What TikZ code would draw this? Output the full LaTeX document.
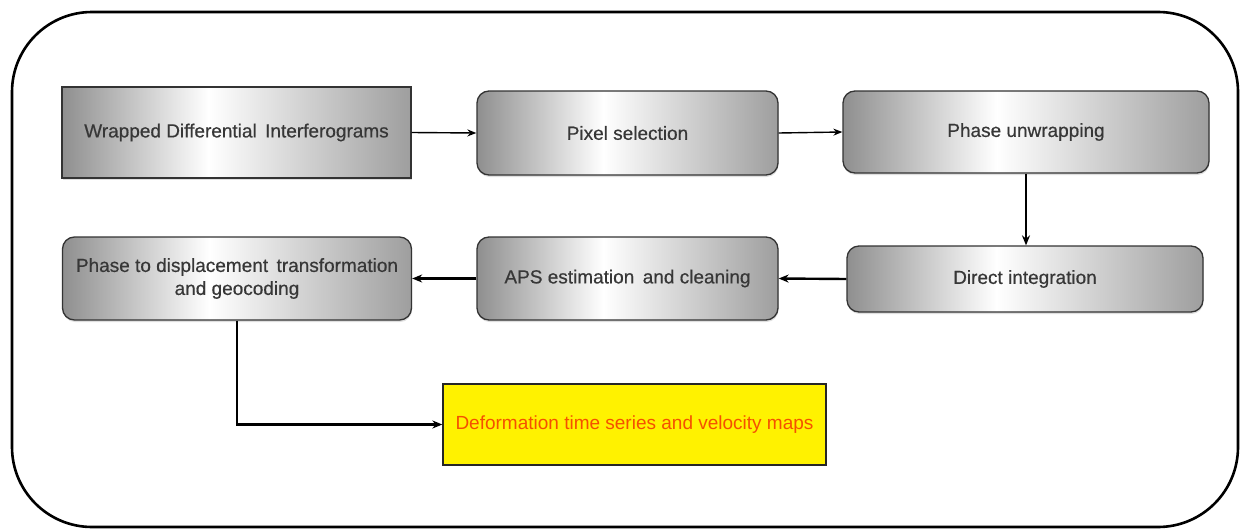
\documentclass[tikz,border=0pt]{standalone}
\usepackage{fontspec}
\setmainfont{Liberation Sans}
\newfontfamily\boxfont[FakeBold=0.5]{Liberation Sans}
\usetikzlibrary{arrows.meta,shadows}
\pgfdeclarehorizontalshading{boxshade}{100bp}{color(0bp)=(black!44); color(25bp)=(black!44); color(46bp)=(white); color(75bp)=(black!38); color(100bp)=(black!38)}
\definecolor{deftext}{RGB}{245,80,0}
\definecolor{boxtext}{RGB}{55,55,55}
\tikzset{
  stepbox/.style={draw=black!80, line width=1.3pt, shading=boxshade, rounded corners=12pt,
    text=boxtext, font=\boxfont\fontsize{19}{23}\selectfont, align=center, inner sep=0pt,
    drop shadow={shadow xshift=0.5pt, shadow yshift=-2pt, opacity=0.25}},
  sharpbox/.style={stepbox, rounded corners=0pt},
  flow/.style={line width=1.4pt, -{Stealth[length=9pt,width=7pt]}},
  flowthick/.style={line width=2.4pt, -{Stealth[length=10pt,width=8pt]}},
}
\begin{document}
\begin{tikzpicture}[x=1pt,y=-1pt]
\useasboundingbox (0,0) rectangle (1245,530);
\draw[line width=2.6pt, rounded corners=80pt] (12,12) rectangle (1238,527);
\node[sharpbox, minimum width=349pt, minimum height=91pt] (wrap) at (236.5,132.5) {Wrapped Differential\, Interferograms};
\node[stepbox, minimum width=301pt, minimum height=84pt] (pix) at (627.5,133) {Pixel selection};
\node[stepbox, minimum width=366pt, minimum height=82pt] (unw) at (1026,132) {Phase unwrapping};
\node[stepbox, minimum width=349pt, minimum height=83pt] (ptd) at (237,278.5) {Phase to displacement\, transformation\\and geocoding};
\node[stepbox, minimum width=301pt, minimum height=83pt] (aps) at (627.5,278.5) {APS estimation\, and cleaning};
\node[stepbox, minimum width=356pt, minimum height=66pt] (dir) at (1025,279) {Direct integration};
\node[draw=black!85, line width=1.3pt, fill=yellow, minimum width=383pt, minimum height=81pt, inner sep=0pt,
  text=deftext, font=\fontsize{19}{23}\selectfont] (def) at (634.5,424.5) {Deformation time series and velocity maps};
\draw[flow] (wrap.east) -- (pix.west);
\draw[flow] (pix.east) -- (unw.west);
\draw[flowthick] (unw.south) -- (unw.south |- dir.north);
\draw[flowthick] (dir.west) -- (aps.east);
\draw[flowthick] (aps.west) -- (ptd.east);
\draw[flowthick] (ptd.south) |- (def.west);
\end{tikzpicture}
\end{document}
